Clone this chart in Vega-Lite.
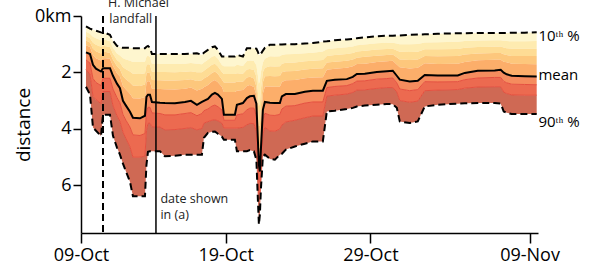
{
"$schema": "https://vega.github.io/schema/vega-lite/v6.json",
"width": 457, "height": 217,
"autosize": {"type": "none"},
"padding": {"left": 81, "top": 16, "right": 53, "bottom": 39},
"config": {"view": {"stroke": null}, "font": "Open Sans", "text": {"font": "Open Sans"}},
"datasets": {
"pct": [
{"date":"2018-10-09T08:17","p10":0.37,"p20":0.56,"p30":0.71,"p40":0.87,"p50":1.04,"mean":1.29,"p70":1.56,"p80":1.90,"p90":2.51},
{"date":"2018-10-09T14:55","p10":0.45,"p20":0.63,"p30":0.79,"p40":0.94,"p50":1.10,"mean":1.35,"p70":1.67,"p80":2.07,"p90":2.79},
{"date":"2018-10-09T19:53","p10":0.49,"p20":0.74,"p30":0.95,"p40":1.16,"p50":1.38,"mean":1.73,"p70":2.22,"p80":2.85,"p90":3.96},
{"date":"2018-10-10T00:52","p10":0.52,"p20":0.79,"p30":1.02,"p40":1.25,"p50":1.50,"mean":1.87,"p70":2.36,"p80":2.97,"p90":4.07},
{"date":"2018-10-10T09:09","p10":0.58,"p20":0.86,"p30":1.09,"p40":1.33,"p50":1.58,"mean":1.97,"p70":2.47,"p80":3.11,"p90":4.26},
{"date":"2018-10-10T12:28","p10":0.60,"p20":0.85,"p30":1.06,"p40":1.27,"p50":1.50,"mean":1.85,"p70":2.21,"p80":2.68,"p90":3.50},
{"date":"2018-10-10T17:26","p10":0.61,"p20":0.85,"p30":1.07,"p40":1.28,"p50":1.50,"mean":1.85,"p70":2.21,"p80":2.68,"p90":3.50},
{"date":"2018-10-11T00:04","p10":0.67,"p20":0.90,"p30":1.10,"p40":1.31,"p50":1.52,"mean":1.85,"p70":2.21,"p80":2.68,"p90":3.50},
{"date":"2018-10-11T05:02","p10":0.88,"p20":1.13,"p30":1.34,"p40":1.55,"p50":1.77,"mean":2.12,"p70":2.59,"p80":3.18,"p90":4.25},
{"date":"2018-10-11T11:40","p10":1.06,"p20":1.33,"p30":1.56,"p40":1.78,"p50":2.03,"mean":2.40,"p70":2.90,"p80":3.54,"p90":4.67},
{"date":"2018-10-11T16:38","p10":1.11,"p20":1.40,"p30":1.65,"p40":1.89,"p50":2.15,"mean":2.56,"p70":3.08,"p80":3.74,"p90":4.92},
{"date":"2018-10-11T21:37","p10":1.13,"p20":1.50,"p30":1.82,"p40":2.14,"p50":2.48,"mean":3.01,"p70":3.50,"p80":4.12,"p90":5.24},
{"date":"2018-10-12T02:35","p10":1.13,"p20":1.54,"p30":1.89,"p40":2.24,"p50":2.61,"mean":3.18,"p70":3.70,"p80":4.35,"p90":5.52},
{"date":"2018-10-12T09:13","p10":1.13,"p20":1.59,"p30":1.97,"p40":2.36,"p50":2.76,"mean":3.40,"p70":3.94,"p80":4.64,"p90":5.88},
{"date":"2018-10-12T14:11","p10":1.14,"p20":1.63,"p30":2.05,"p40":2.47,"p50":2.92,"mean":3.61,"p70":4.22,"p80":5.01,"p90":6.40},
{"date":"2018-10-13T01:48","p10":1.14,"p20":1.63,"p30":2.06,"p40":2.48,"p50":2.93,"mean":3.63,"p70":4.24,"p80":5.01,"p90":6.40},
{"date":"2018-10-13T10:05","p10":1.14,"p20":1.62,"p30":2.03,"p40":2.43,"p50":2.87,"mean":3.54,"p70":4.17,"p80":4.97,"p90":6.40},
{"date":"2018-10-13T12:34","p10":1.09,"p20":1.45,"p30":1.75,"p40":2.05,"p50":2.37,"mean":2.87,"p70":3.40,"p80":4.07,"p90":5.28},
{"date":"2018-10-13T15:04","p10":1.06,"p20":1.40,"p30":1.70,"p40":2.00,"p50":2.31,"mean":2.79,"p70":3.24,"p80":3.81,"p90":4.82},
{"date":"2018-10-13T18:22","p10":1.13,"p20":1.46,"p30":1.74,"p40":2.03,"p50":2.33,"mean":2.79,"p70":3.24,"p80":3.80,"p90":4.80},
{"date":"2018-10-13T21:41","p10":1.35,"p20":1.69,"p30":1.98,"p40":2.27,"p50":2.58,"mean":3.05,"p70":3.44,"p80":3.93,"p90":4.80},
{"date":"2018-10-14T10:57","p10":1.35,"p20":1.70,"p30":1.99,"p40":2.28,"p50":2.59,"mean":3.08,"p70":3.46,"p80":3.94,"p90":4.80},
{"date":"2018-10-14T19:14","p10":1.35,"p20":1.70,"p30":1.99,"p40":2.29,"p50":2.60,"mean":3.09,"p70":3.51,"p80":4.04,"p90":4.98},
{"date":"2018-10-15T11:49","p10":1.35,"p20":1.70,"p30":2.00,"p40":2.29,"p50":2.61,"mean":3.10,"p70":3.51,"p80":4.03,"p90":4.96},
{"date":"2018-10-16T04:23","p10":1.35,"p20":1.69,"p30":1.98,"p40":2.27,"p50":2.58,"mean":3.05,"p70":3.46,"p80":3.99,"p90":4.92},
{"date":"2018-10-16T14:20","p10":1.34,"p20":1.67,"p30":1.96,"p40":2.24,"p50":2.54,"mean":3.01,"p70":3.43,"p80":3.96,"p90":4.92},
{"date":"2018-10-17T00:17","p10":1.32,"p20":1.69,"p30":2.00,"p40":2.31,"p50":2.64,"mean":3.15,"p70":3.54,"p80":4.04,"p90":4.92},
{"date":"2018-10-17T08:34","p10":1.38,"p20":1.71,"p30":2.00,"p40":2.28,"p50":2.58,"mean":3.05,"p70":3.46,"p80":3.99,"p90":4.92},
{"date":"2018-10-17T11:53","p10":1.30,"p20":1.65,"p30":1.94,"p40":2.22,"p50":2.53,"mean":3.01,"p70":3.36,"p80":3.80,"p90":4.32},
{"date":"2018-10-17T18:31","p10":1.20,"p20":1.55,"p30":1.84,"p40":2.14,"p50":2.45,"mean":2.94,"p70":3.30,"p80":3.75,"p90":4.15},
{"date":"2018-10-18T01:08","p10":1.11,"p20":1.45,"p30":1.73,"p40":2.02,"p50":2.32,"mean":2.79,"p70":3.20,"p80":3.70,"p90":4.11},
{"date":"2018-10-18T06:07","p10":1.08,"p20":1.41,"p30":1.69,"p40":1.97,"p50":2.27,"mean":2.73,"p70":3.16,"p80":3.68,"p90":4.10},
{"date":"2018-10-18T11:05","p10":1.20,"p20":1.52,"p30":1.79,"p40":2.06,"p50":2.35,"mean":2.79,"p70":3.22,"p80":3.72,"p90":4.18},
{"date":"2018-10-18T17:43","p10":1.44,"p20":1.74,"p30":1.99,"p40":2.25,"p50":2.52,"mean":2.94,"p70":3.33,"p80":3.80,"p90":4.28},
{"date":"2018-10-18T21:02","p10":1.44,"p20":1.78,"p30":2.06,"p40":2.36,"p50":2.70,"mean":3.50,"p70":3.70,"p80":3.98,"p90":4.39},
{"date":"2018-10-19T15:16","p10":1.44,"p20":1.78,"p30":2.06,"p40":2.36,"p50":2.70,"mean":3.50,"p70":3.70,"p80":3.98,"p90":4.39},
{"date":"2018-10-19T18:35","p10":1.38,"p20":1.73,"p30":2.03,"p40":2.33,"p50":2.65,"mean":3.15,"p70":3.51,"p80":3.98,"p90":4.80},
{"date":"2018-10-20T04:31","p10":1.44,"p20":1.77,"p30":2.05,"p40":2.33,"p50":2.63,"mean":3.09,"p70":3.47,"p80":3.95,"p90":4.80},
{"date":"2018-10-20T11:09","p10":1.14,"p20":1.60,"p30":1.90,"p40":2.18,"p50":2.48,"mean":2.91,"p70":3.33,"p80":3.86,"p90":4.80},
{"date":"2018-10-20T16:08","p10":1.14,"p20":1.58,"p30":1.88,"p40":2.16,"p50":2.45,"mean":2.85,"p70":3.27,"p80":3.81,"p90":4.76},
{"date":"2018-10-20T22:46","p10":1.14,"p20":1.60,"p30":1.92,"p40":2.22,"p50":2.52,"mean":2.83,"p70":3.27,"p80":3.82,"p90":4.80},
{"date":"2018-10-21T02:54","p10":1.16,"p20":1.75,"p30":2.15,"p40":2.50,"p50":2.80,"mean":3.11,"p70":3.55,"p80":4.10,"p90":5.10},
{"date":"2018-10-21T05:23","p10":1.27,"p20":2.10,"p30":2.70,"p40":3.20,"p50":3.80,"mean":4.39,"p70":4.90,"p80":5.50,"p90":6.52},
{"date":"2018-10-21T07:03","p10":1.38,"p20":2.40,"p30":3.20,"p40":3.90,"p50":4.60,"mean":5.28,"p70":5.80,"p80":6.50,"p90":7.40},
{"date":"2018-10-21T08:42","p10":1.38,"p20":2.30,"p30":3.10,"p40":3.90,"p50":4.70,"mean":5.52,"p70":5.90,"p80":6.40,"p90":7.05},
{"date":"2018-10-21T10:21","p10":1.34,"p20":2.00,"p30":2.60,"p40":3.20,"p50":3.90,"mean":4.75,"p70":5.10,"p80":5.60,"p90":6.16},
{"date":"2018-10-21T13:40","p10":1.23,"p20":1.65,"p30":2.00,"p40":2.35,"p50":2.75,"mean":3.33,"p70":3.70,"p80":4.20,"p90":4.99},
{"date":"2018-10-21T16:59","p10":1.13,"p20":1.52,"p30":1.84,"p40":2.14,"p50":2.50,"mean":3.05,"p70":3.45,"p80":3.95,"p90":4.92},
{"date":"2018-10-22T01:17","p10":1.02,"p20":1.43,"p30":1.78,"p40":2.13,"p50":2.50,"mean":3.08,"p70":3.52,"p80":4.08,"p90":5.07},
{"date":"2018-10-22T09:34","p10":1.02,"p20":1.44,"p30":1.79,"p40":2.14,"p50":2.51,"mean":3.09,"p70":3.53,"p80":4.09,"p90":5.10},
{"date":"2018-10-22T17:51","p10":1.01,"p20":1.43,"p30":1.78,"p40":2.13,"p50":2.51,"mean":3.09,"p70":3.49,"p80":4.01,"p90":4.92},
{"date":"2018-10-22T21:10","p10":1.01,"p20":1.38,"p30":1.69,"p40":2.00,"p50":2.34,"mean":2.85,"p70":3.30,"p80":3.87,"p90":4.89},
{"date":"2018-10-23T03:48","p10":1.00,"p20":1.36,"p30":1.66,"p40":1.96,"p50":2.28,"mean":2.77,"p70":3.20,"p80":3.76,"p90":4.74},
{"date":"2018-10-23T18:43","p10":1.00,"p20":1.35,"p30":1.65,"p40":1.95,"p50":2.27,"mean":2.77,"p70":3.18,"p80":3.70,"p90":4.63},
{"date":"2018-10-24T11:17","p10":0.98,"p20":1.32,"p30":1.61,"p40":1.90,"p50":2.21,"mean":2.69,"p70":3.09,"p80":3.61,"p90":4.53},
{"date":"2018-10-25T00:33","p10":0.96,"p20":1.30,"p30":1.59,"p40":1.87,"p50":2.18,"mean":2.65,"p70":3.05,"p80":3.55,"p90":4.45},
{"date":"2018-10-25T17:07","p10":0.91,"p20":1.26,"p30":1.56,"p40":1.85,"p50":2.17,"mean":2.65,"p70":3.05,"p80":3.55,"p90":4.45},
{"date":"2018-10-25T23:46","p10":0.90,"p20":1.18,"p30":1.42,"p40":1.65,"p50":1.91,"mean":2.30,"p70":2.54,"p80":2.84,"p90":3.39},
{"date":"2018-10-26T13:01","p10":0.86,"p20":1.14,"p30":1.38,"p40":1.62,"p50":1.87,"mean":2.26,"p70":2.50,"p80":2.81,"p90":3.36},
{"date":"2018-10-27T08:55","p10":0.83,"p20":1.11,"p30":1.35,"p40":1.59,"p50":1.84,"mean":2.24,"p70":2.47,"p80":2.77,"p90":3.30},
{"date":"2018-10-27T18:51","p10":0.81,"p20":1.08,"p30":1.31,"p40":1.54,"p50":1.78,"mean":2.16,"p70":2.40,"p80":2.71,"p90":3.26},
{"date":"2018-10-28T01:29","p10":0.79,"p20":1.04,"p30":1.26,"p40":1.48,"p50":1.70,"mean":2.06,"p70":2.31,"p80":2.63,"p90":3.21},
{"date":"2018-10-28T14:44","p10":0.76,"p20":1.01,"p30":1.23,"p40":1.45,"p50":1.69,"mean":2.05,"p70":2.30,"p80":2.62,"p90":3.18},
{"date":"2018-10-29T10:38","p10":0.72,"p20":0.97,"p30":1.19,"p40":1.41,"p50":1.63,"mean":1.99,"p70":2.24,"p80":2.57,"p90":3.15},
{"date":"2018-10-30T03:13","p10":0.70,"p20":0.95,"p30":1.17,"p40":1.38,"p50":1.61,"mean":1.96,"p70":2.22,"p80":2.54,"p90":3.12},
{"date":"2018-10-30T13:09","p10":0.70,"p20":0.95,"p30":1.16,"p40":1.37,"p50":1.59,"mean":1.94,"p70":2.20,"p80":2.54,"p90":3.13},
{"date":"2018-10-30T19:47","p10":0.69,"p20":0.98,"p30":1.22,"p40":1.46,"p50":1.72,"mean":2.12,"p70":2.37,"p80":2.69,"p90":3.26},
{"date":"2018-10-31T00:46","p10":0.69,"p20":1.00,"p30":1.27,"p40":1.54,"p50":1.82,"mean":2.26,"p70":2.59,"p80":3.00,"p90":3.74},
{"date":"2018-10-31T17:20","p10":0.67,"p20":1.00,"p30":1.28,"p40":1.56,"p50":1.86,"mean":2.32,"p70":2.65,"p80":3.06,"p90":3.80},
{"date":"2018-11-01T06:35","p10":0.66,"p20":0.99,"p30":1.27,"p40":1.54,"p50":1.84,"mean":2.30,"p70":2.61,"p80":3.02,"p90":3.74},
{"date":"2018-11-01T18:11","p10":0.65,"p20":0.94,"p30":1.18,"p40":1.42,"p50":1.68,"mean":2.09,"p70":2.33,"p80":2.65,"p90":3.21},
{"date":"2018-11-02T15:44","p10":0.63,"p20":0.93,"p30":1.18,"p40":1.43,"p50":1.70,"mean":2.11,"p70":2.34,"p80":2.63,"p90":3.15},
{"date":"2018-11-04T00:53","p10":0.61,"p20":0.91,"p30":1.17,"p40":1.42,"p50":1.69,"mean":2.11,"p70":2.33,"p80":2.61,"p90":3.11},
{"date":"2018-11-04T12:30","p10":0.61,"p20":0.89,"p30":1.13,"p40":1.37,"p50":1.63,"mean":2.02,"p70":2.26,"p80":2.56,"p90":3.10},
{"date":"2018-11-05T10:03","p10":0.60,"p20":0.87,"p30":1.10,"p40":1.33,"p50":1.57,"mean":1.94,"p70":2.20,"p80":2.52,"p90":3.09},
{"date":"2018-11-06T14:14","p10":0.60,"p20":0.86,"p30":1.09,"p40":1.31,"p50":1.55,"mean":1.93,"p70":2.18,"p80":2.51,"p90":3.09},
{"date":"2018-11-07T00:10","p10":0.60,"p20":0.86,"p30":1.08,"p40":1.31,"p50":1.55,"mean":1.91,"p70":2.18,"p80":2.51,"p90":3.11},
{"date":"2018-11-07T05:08","p10":0.60,"p20":0.88,"p30":1.12,"p40":1.36,"p50":1.62,"mean":2.01,"p70":2.32,"p80":2.70,"p90":3.39},
{"date":"2018-11-07T10:07","p10":0.60,"p20":0.89,"p30":1.14,"p40":1.38,"p50":1.64,"mean":2.07,"p70":2.37,"p80":2.75,"p90":3.43},
{"date":"2018-11-07T18:24","p10":0.59,"p20":0.90,"p30":1.16,"p40":1.42,"p50":1.69,"mean":2.12,"p70":2.42,"p80":2.80,"p90":3.48},
{"date":"2018-11-08T15:57","p10":0.59,"p20":0.90,"p30":1.16,"p40":1.42,"p50":1.70,"mean":2.14,"p70":2.43,"p80":2.81,"p90":3.48},
{"date":"2018-11-09T11:50","p10":0.58,"p20":0.89,"p30":1.16,"p40":1.42,"p50":1.71,"mean":2.15,"p70":2.44,"p80":2.81,"p90":3.48}
]
},
"data": {"name": "pct"},
"encoding": {
  "x": {"field": "date", "type": "temporal",
    "scale": {"domain": [{"year": 2018, "month": "oct", "date": 9}, {"year": 2018, "month": "nov", "date": 9, "hours": 14}], "nice": false},
    "axis": {"values": [{"year": 2018, "month": "oct", "date": 9}, {"year": 2018, "month": "oct", "date": 19}, {"year": 2018, "month": "oct", "date": 29}, {"year": 2018, "month": "nov", "date": 9}],
      "format": "%d-%b", "title": null, "grid": false, "tickSize": 10, "tickWidth": 1.5, "domainWidth": 1.5,
      "domainColor": "black", "tickColor": "black", "labelColor": "black", "labelFontSize": 18, "labelPadding": 3,
      "labelFlush": false, "labelOverlap": false, "labelBound": false}}
},
"layer": [
  {"mark": {"type": "area", "color": "#fef6cf"},
   "encoding": {"y": {"field": "p10", "type": "quantitative", "title": "distance",
      "scale": {"domain": [0, 7.7], "reverse": true, "nice": false, "zero": false},
      "axis": {"values": [0, 2, 4, 6], "labelExpr": "datum.value === 0 ? '0km' : datum.label", "grid": false,
        "tickSize": 8, "tickWidth": 1.5, "domainWidth": 1.5, "domainColor": "black", "tickColor": "black",
        "labelColor": "black", "titleColor": "black", "labelFontSize": 18, "titleFontSize": 19, "titleFontWeight": "normal",
        "labelPadding": 2, "titlePadding": 1}},
     "y2": {"field": "p20"}}},
  {"mark": {"type": "area", "color": "#feebb0"},
   "encoding": {"y": {"field": "p20", "type": "quantitative", "title": "distance", "scale": {"domain": [0, 7.7], "reverse": true, "nice": false, "zero": false}}, "y2": {"field": "p30"}}},
  {"mark": {"type": "area", "color": "#fedc94"},
   "encoding": {"y": {"field": "p30", "type": "quantitative", "title": "distance", "scale": {"domain": [0, 7.7], "reverse": true, "nice": false, "zero": false}}, "y2": {"field": "p40"}}},
  {"mark": {"type": "area", "color": "#fdc77c"},
   "encoding": {"y": {"field": "p40", "type": "quantitative", "title": "distance", "scale": {"domain": [0, 7.7], "reverse": true, "nice": false, "zero": false}}, "y2": {"field": "p50"}}},
  {"mark": {"type": "area", "color": "#fcae6a"},
   "encoding": {"y": {"field": "p50", "type": "quantitative", "title": "distance", "scale": {"domain": [0, 7.7], "reverse": true, "nice": false, "zero": false}}, "y2": {"field": "mean"}}},
  {"mark": {"type": "area", "color": "#f58c5e"},
   "encoding": {"y": {"field": "mean", "type": "quantitative", "title": "distance", "scale": {"domain": [0, 7.7], "reverse": true, "nice": false, "zero": false}}, "y2": {"field": "p70"}}},
  {"mark": {"type": "area", "color": "#ec6a50"},
   "encoding": {"y": {"field": "p70", "type": "quantitative", "title": "distance", "scale": {"domain": [0, 7.7], "reverse": true, "nice": false, "zero": false}}, "y2": {"field": "p80"}}},
  {"mark": {"type": "area", "color": "#cf6954"},
   "encoding": {"y": {"field": "p80", "type": "quantitative", "title": "distance", "scale": {"domain": [0, 7.7], "reverse": true, "nice": false, "zero": false}}, "y2": {"field": "p90"}}},
  {"mark": {"type": "line", "color": "#e5503f", "strokeWidth": 1},
   "encoding": {"y": {"field": "p70", "type": "quantitative", "title": "distance", "scale": {"domain": [0, 7.7], "reverse": true, "nice": false, "zero": false}}}},
  {"mark": {"type": "line", "color": "#e5503f", "strokeWidth": 1},
   "encoding": {"y": {"field": "p80", "type": "quantitative", "title": "distance", "scale": {"domain": [0, 7.7], "reverse": true, "nice": false, "zero": false}}}},
  {"mark": {"type": "line", "color": "black", "strokeWidth": 2},
   "encoding": {"y": {"field": "mean", "type": "quantitative", "title": "distance", "scale": {"domain": [0, 7.7], "reverse": true, "nice": false, "zero": false}}}},
  {"mark": {"type": "line", "color": "black", "strokeWidth": 2, "strokeDash": [7, 4]},
   "encoding": {"y": {"field": "p10", "type": "quantitative", "title": "distance", "scale": {"domain": [0, 7.7], "reverse": true, "nice": false, "zero": false}}}},
  {"mark": {"type": "line", "color": "black", "strokeWidth": 2, "strokeDash": [7, 4]},
   "encoding": {"y": {"field": "p90", "type": "quantitative", "title": "distance", "scale": {"domain": [0, 7.7], "reverse": true, "nice": false, "zero": false}}}},
  {"data": {"values": [{"date": "2018-10-10T12:30"}]},
   "mark": {"type": "rule", "color": "black", "strokeWidth": 2, "strokeDash": [7, 4]},
   "encoding": {}},
  {"data": {"values": [{"date": "2018-10-14T04:20"}]},
   "mark": {"type": "rule", "color": "black", "strokeWidth": 1.5},
   "encoding": {}},
  {"data": {"values": [
     {"date": "2018-10-10T20:45", "km": -0.32, "text": "H. Michael"},
     {"date": "2018-10-10T22:54", "km": 0.26, "text": "landfall"},
     {"date": "2018-10-14T11:47", "km": 6.63, "text": "date shown"},
     {"date": "2018-10-14T11:47", "km": 7.2, "text": "in (a)"}]},
   "mark": {"type": "text", "align": "left", "baseline": "alphabetic", "fontSize": 12.5, "color": "#222"},
   "encoding": {"y": {"field": "km", "type": "quantitative", "title": "distance", "scale": {"domain": [0, 7.7], "reverse": true, "nice": false, "zero": false}},
     "text": {"field": "text"}}},
  {"data": {"values": [
     {"date": "2018-11-09T13:00", "km": 0.70, "text": "10ᵗʰ %"},
     {"date": "2018-11-09T13:00", "km": 2.09, "text": "mean"},
     {"date": "2018-11-09T13:00", "km": 3.77, "text": "90ᵗʰ %"}]},
   "mark": {"type": "text", "align": "left", "baseline": "middle", "fontSize": 15, "color": "black", "dx": 1},
   "encoding": {"y": {"field": "km", "type": "quantitative", "title": "distance", "scale": {"domain": [0, 7.7], "reverse": true, "nice": false, "zero": false}},
     "text": {"field": "text"}}}
]
}
